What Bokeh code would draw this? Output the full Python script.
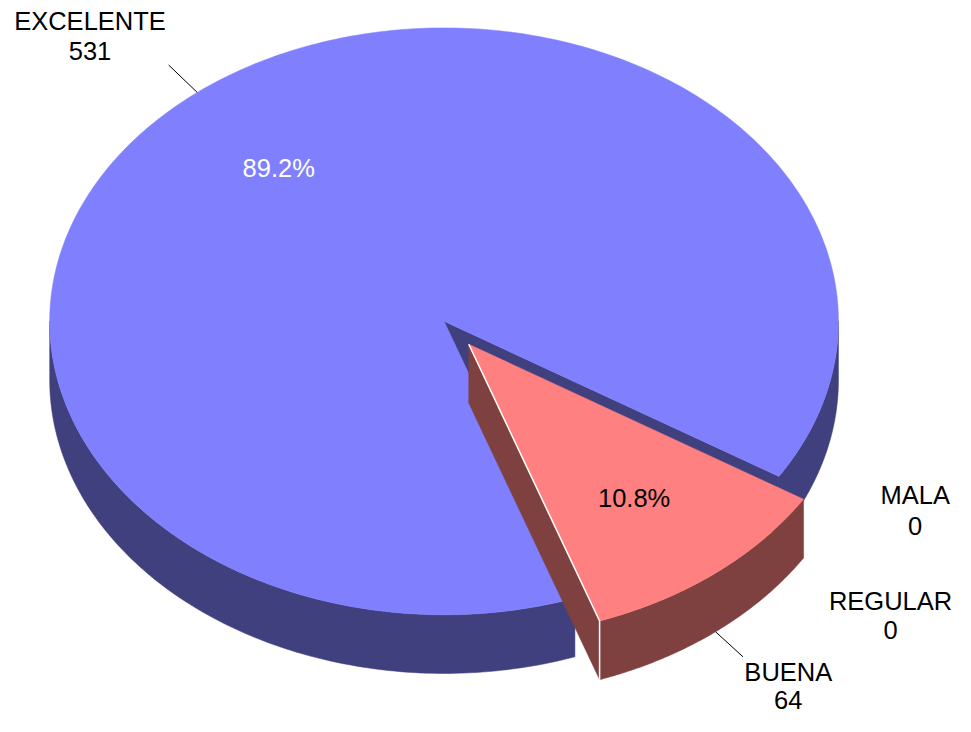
import numpy as np
from bokeh.plotting import figure
from bokeh.models import Range1d
from bokeh.core.properties import value
from bokeh.embed import file_html
from bokeh.resources import INLINE

# ---- data ----
categories = ["EXCELENTE", "BUENA", "REGULAR", "MALA"]
counts = [531, 64, 0, 0]

# ---- style / layout ----
top_colors = ["#8080FF", "#FF8080", "#FFFFCC", "#CCFFFF"]
side_colors = ["#40407F", "#7F4040", "#7F7F66", "#667F7F"]
explode = [0.0, 0.1, 0.0, 0.0]
pct_colors = ["white", "black", "black", "black"]
start_deg = -31.9          # counter-clockwise start angle
CX, CY, RX, RY, DEPTH = 451.0, 328.0, 401.0, 300.0, 60.0
FONT = "Liberation Sans"
FS = "25.5px"
# label anchors (x, name line y, count line y) in reference pixels
label_xy = [(91, 21, 51.5), (801, 686, 715), (905, 613.5, 644), (930, 506, 537)]
leader_end = [(171, 66), (755, 671), None, None]

W, H = 955, 716
p = figure(width=W, height=H, output_backend="svg", toolbar_location=None,
           x_range=Range1d(0, 971), y_range=Range1d(732, 0),
           min_border=0, outline_line_color=None)
p.axis.visible = False
p.grid.visible = False
p.background_fill_color = "white"
p.border_fill_color = "white"

total = float(sum(counts))
angles = []
a = np.radians(start_deg)
for c in counts:
    span = 2 * np.pi * c / total
    angles.append((a, a + span))
    a += span


def rim(cx, cy, t, dz=0.0):
    return cx + RX * np.cos(t), cy - RY * np.sin(t) + dz


def visible_ranges(t0, t1):
    # parts of [t0,t1] where sin(t) < 0 (front half)
    out = []
    k0 = int(np.floor(t0 / np.pi)) - 1
    for k in range(k0, k0 + 6):
        lo, hi = (2 * k + 1) * np.pi, (2 * k + 2) * np.pi
        s, e = max(lo, t0), min(hi, t1)
        if e > s:
            out.append((s, e))
    return out


for i, c in enumerate(counts):
    if c <= 0:
        continue
    t0, t1 = angles[i]
    mid = (t0 + t1) / 2
    cx = CX + explode[i] * RX * np.cos(mid)
    cy = CY - explode[i] * RY * np.sin(mid)
    # radial walls
    for t, sign in ((t0, -1), (t1, 1)):
        if sign * np.cos(t) < 0 and (t1 - t0) < 2 * np.pi - 1e-6:
            rx_, ry_ = rim(cx, cy, t)
            p.patch([cx, rx_, rx_, cx], [cy, ry_, ry_ + DEPTH, cy + DEPTH],
                    fill_color=side_colors[i], line_color=side_colors[i], line_width=0.5)
    # outer wall
    for s, e in visible_ranges(t0, t1):
        ts = np.linspace(s, e, 120)
        xs, ys = rim(cx, cy, ts)
        px = np.concatenate([xs, xs[::-1]])
        py = np.concatenate([ys, (ys + DEPTH)[::-1]])
        p.patch(px, py, fill_color=side_colors[i], line_color=side_colors[i], line_width=0.5)
    # top face
    ts = np.linspace(t0, t1, 400)
    xs, ys = rim(cx, cy, ts)
    p.patch(np.concatenate([[cx], xs]), np.concatenate([[cy], ys]),
            fill_color=top_colors[i], line_color=top_colors[i], line_width=0.5)
    # white edge on exploded slice
    if explode[i] > 0:
        ex, ey = rim(cx, cy, t0)
        p.line([cx, ex, ex], [cy, ey, ey + DEPTH], line_color="white", line_width=1.5)
    # percentage label
    lx, ly = rim(cx, cy, mid)
    px_, py_ = cx + 0.67 * (lx - cx), cy + 0.67 * (ly - cy)
    p.text(x=[px_], y=[py_], text=["%.1f%%" % (100 * c / total)],
           text_font=value(FONT), text_font_size=FS, text_color=pct_colors[i],
           text_align="center", text_baseline="middle")
    # leader line
    if leader_end[i] is not None:
        bx, by = rim(cx, cy, mid)
        if np.sin(mid) < 0:
            by += DEPTH
        p.line([bx, leader_end[i][0]], [by, leader_end[i][1]], line_color="black", line_width=1)

for i, name in enumerate(categories):
    lx, y1, y2 = label_xy[i]
    p.text(x=[lx, lx], y=[y1, y2], text=[name, str(counts[i])],
           text_font=value(FONT), text_font_size=FS, text_color="black",
           text_align="center", text_baseline="middle")

open("out.html", "w").write(file_html(p, INLINE))
